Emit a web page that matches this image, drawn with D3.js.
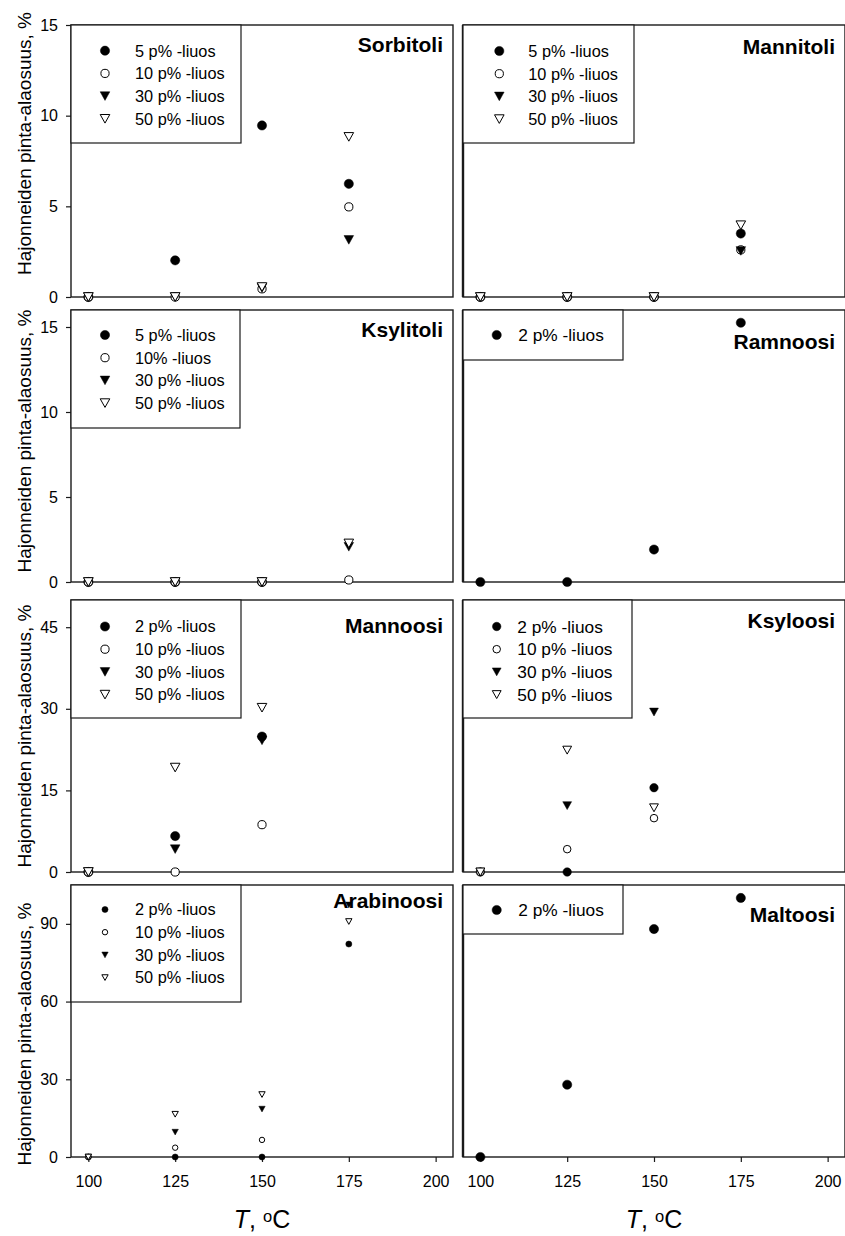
<!DOCTYPE html>
<html><head><meta charset="utf-8">
<script src="https://cdn.jsdelivr.net/npm/d3@7"></script>
<style>body{margin:0;background:#fff} svg text{font-family:Arial,"Liberation Sans",sans-serif;fill:#000}</style>
</head><body><svg id="c" width="845" height="1236"></svg>
<script>
// ---------- data ----------
const temps = [100, 125, 150, 175];
const xTicks = [100, 125, 150, 175, 200];
const yTicksRow1 = [0, 5, 10, 15];
const yTicksRow2 = [0, 5, 10, 15];
const yTicksRow3 = [0, 15, 30, 45];
const yTicksRow4 = [0, 30, 60, 90];
const yMaxByRow = [15, 16, 50, 105];
const yLabel = "Hajonneiden pinta-alaosuus, %";

const labelsPolyol = ["5 p% -liuos", "10 p% -liuos", "30 p% -liuos", "50 p% -liuos"];
const labelsKsylitoli = ["5 p% -liuos", "10% -liuos", "30 p% -liuos", "50 p% -liuos"];
const labelsSugar = ["2 p% -liuos", "10 p% -liuos", "30 p% -liuos", "50 p% -liuos"];
const labelsSingle = ["2 p% -liuos"];

const sorbitoli5 = [0, 2.02, 9.46, 6.24];
const sorbitoli10 = [0, 0, 0.45, 4.97];
const sorbitoli30 = [0, 0, 0.5, 3.15];
const sorbitoli50 = [0, 0, 0.55, 8.83];

const mannitoli5 = [0, 0, 0, 3.5];
const mannitoli10 = [0, 0, 0, 2.6];
const mannitoli30 = [0, 0, 0, 2.54];
const mannitoli50 = [0, 0, 0, 3.96];

const ksylitoli5 = [0, 0, 0, null];
const ksylitoli10 = [0, 0, 0, 0.12];
const ksylitoli30 = [0, 0, 0, 2.07];
const ksylitoli50 = [0, 0, 0, 2.27];

const ramnoosi2 = [0, 0, 1.91, 15.25];

const mannoosi2 = [0, 6.6, 24.9, null];
const mannoosi10 = [0, 0, 8.7, null];
const mannoosi30 = [0, 4.2, 24.2, null];
const mannoosi50 = [0, 19.2, 30.2, null];

const ksyloosi2 = [0, 0, 15.5, null];
const ksyloosi10 = [0, 4.2, 9.9, null];
const ksyloosi30 = [0, 12.2, 29.4, null];
const ksyloosi50 = [0, 22.4, 11.8, null];

const arabinoosi2 = [0, 0, 0, 82.2];
const arabinoosi10 = [0, 3.6, 6.6, null];
const arabinoosi30 = [0, 9.6, 18.5, 97.3];
const arabinoosi50 = [0, 16.5, 24.1, 90.9];

const maltoosi2 = [0, 27.9, 88.0, 100];

// ---------- layout ----------
const W = 845, H = 1236;
const colX = [71, 463], panelW = 382;
const rowY = [25, 310, 600, 885], panelH = 272;
const yTicksByRow = [yTicksRow1, yTicksRow2, yTicksRow3, yTicksRow4];
const yLabelCenters = [143.5, 441, 736, 1034];
const markerTypes = ["fc", "oc", "ft", "ot"];

const panels = [
  {title: "Sorbitoli", row: 0, col: 0, data: [sorbitoli5, sorbitoli10, sorbitoli30, sorbitoli50], labels: labelsPolyol, tdy: 26.7, lg: {w: 170, h: 118, mx: 34, tx: 64, fs: 16.3, y0: 25.7}, s: 1},
  {title: "Mannitoli", row: 0, col: 1, data: [mannitoli5, mannitoli10, mannitoli30, mannitoli50], labels: labelsPolyol, tdy: 29, lg: {w: 171, h: 118, mx: 36.3, tx: 65.3, fs: 16.3, y0: 26}, s: 1},
  {title: "Ksylitoli", row: 1, col: 0, data: [ksylitoli5, ksylitoli10, ksylitoli30, ksylitoli50], labels: labelsKsylitoli, tdy: 26.7, lg: {w: 169, h: 118, mx: 34, tx: 64, fs: 16.3, y0: 25}, s: 1},
  {title: "Ramnoosi", row: 1, col: 1, data: [ramnoosi2], labels: labelsSingle, tdy: 39.3, lg: {w: 160, h: 50, mx: 33.7, tx: 55.3, fs: 17.3, y0: 25}, s: 1},
  {title: "Mannoosi", row: 2, col: 0, data: [mannoosi2, mannoosi10, mannoosi30, mannoosi50], labels: labelsSugar, tdy: 33.3, lg: {w: 170, h: 118, mx: 34, tx: 64, fs: 16.3, y0: 26.5}, s: 1},
  {title: "Ksyloosi", row: 2, col: 1, data: [ksyloosi2, ksyloosi10, ksyloosi30, ksyloosi50], labels: labelsSugar, tdy: 27.5, lg: {w: 169, h: 118, mx: 33.7, tx: 54.3, fs: 17.3, y0: 26.5}, s: 0.92},
  {title: "Arabinoosi", row: 3, col: 0, data: [arabinoosi2, arabinoosi10, arabinoosi30, arabinoosi50], labels: labelsSugar, tdy: 23.3, lg: {w: 170, h: 117, mx: 34, tx: 64, fs: 16.3, y0: 24.5}, s: 0.66},
  {title: "Maltoosi", row: 3, col: 1, data: [maltoosi2], labels: labelsSingle, tdy: 37.3, lg: {w: 160, h: 49, mx: 33.7, tx: 55.3, fs: 17.3, y0: 25}, s: 1}
];

const svg = d3.select("#c");
svg.append("rect").attr("width", W).attr("height", H).attr("fill", "#fff");

function marker(g, type, x, y, s) {
  if (type === "fc" || type === "oc") {
    g.append("circle").attr("cx", x).attr("cy", y)
      .attr("r", (type === "fc" ? 4.6 : 4.1) * s)
      .attr("fill", type === "fc" ? "#000" : "#fff")
      .attr("stroke", "#000").attr("stroke-width", type === "fc" ? 0.5 : 1);
  } else {
    const w = 4.8 * s, h = 8.6 * s;
    g.append("path")
      .attr("d", `M${x - w},${y - h / 2}L${x + w},${y - h / 2}L${x},${y + h / 2}Z`)
      .attr("fill", type === "ft" ? "#000" : "#fff")
      .attr("stroke", "#000").attr("stroke-width", type === "ft" ? 0.5 : 1)
      .attr("stroke-linejoin", "miter");
  }
}

panels.forEach(p => {
  const x0 = colX[p.col], y0 = rowY[p.row];
  const x = d3.scaleLinear().domain([95, 205]).range([x0, x0 + panelW]);
  const y = d3.scaleLinear().domain([0, yMaxByRow[p.row]]).range([y0 + panelH, y0]);
  const g = svg.append("g");

  // frame
  g.append("rect").attr("x", x0).attr("y", y0).attr("width", panelW).attr("height", panelH)
    .attr("fill", "none").attr("stroke", "#1a1a1a").attr("stroke-width", 1.4);
  if (p.col === 1) {
    g.append("line").attr("x1", x0).attr("x2", x0).attr("y1", y0).attr("y2", y0 + panelH)
      .attr("stroke", "#1a1a1a").attr("stroke-width", 2.4);
  }

  // y axis (left column only)
  if (p.col === 0) {
    const ya = g.append("g").attr("transform", `translate(${x0},0)`)
      .call(d3.axisLeft(y).tickValues(yTicksByRow[p.row]).tickFormat(d3.format("d"))
        .tickSizeInner(5).tickSizeOuter(0).tickPadding(8));
    ya.select(".domain").remove();
    ya.selectAll("line").attr("stroke", "#1a1a1a").attr("stroke-width", 1.2);
    ya.selectAll("text").attr("font-size", 16).attr("font-family", "Arial, 'Liberation Sans', sans-serif").attr("fill", "#000");

    svg.append("text")
      .attr("transform", `translate(31,${yLabelCenters[p.row]}) rotate(-90)`)
      .attr("text-anchor", "middle").attr("font-size", 19).text(yLabel);
  }

  // x axis (bottom row only)
  if (p.row === 3) {
    const xa = g.append("g").attr("transform", `translate(0,${y0 + panelH})`)
      .call(d3.axisBottom(x).tickValues(xTicks).tickFormat(d3.format("d"))
        .tickSizeInner(5).tickSizeOuter(0).tickPadding(13.5));
    xa.select(".domain").remove();
    xa.selectAll("line").attr("stroke", "#1a1a1a").attr("stroke-width", 1.2);
    xa.selectAll("text").attr("font-size", 16).attr("font-family", "Arial, 'Liberation Sans', sans-serif").attr("fill", "#000");

    const t = svg.append("text").attr("x", x0 + panelW / 2).attr("y", 1228)
      .attr("text-anchor", "middle").attr("font-size", 25);
    t.append("tspan").attr("font-style", "italic").text("T");
    t.append("tspan").text(", ");
    t.append("tspan").attr("font-size", 16.5).attr("dy", -6).text("o");
    t.append("tspan").attr("dy", 6).text("C");
  }

  // legend
  const lg = g.append("g");
  lg.append("rect").attr("x", x0).attr("y", y0).attr("width", p.lg.w).attr("height", p.lg.h)
    .attr("fill", "#fff").attr("stroke", "#1a1a1a").attr("stroke-width", 1.2);
  p.labels.forEach((lab, i) => {
    const ly = y0 + p.lg.y0 + i * 22.7;
    marker(lg, markerTypes[i], x0 + p.lg.mx, ly, p.s);
    lg.append("text").attr("x", x0 + p.lg.tx).attr("y", ly).attr("dy", "0.36em")
      .attr("font-size", p.lg.fs).text(lab);
  });

  // title
  g.append("text").attr("x", x0 + panelW - 10).attr("y", y0 + p.tdy)
    .attr("text-anchor", "end").attr("font-size", 21).attr("font-weight", "bold").text(p.title);

  // data
  p.data.forEach((arr, si) => {
    arr.forEach((v, i) => {
      if (v === null || v === undefined) return;
      marker(g, markerTypes[si], x(temps[i]), y(v), p.s);
    });
  });
});
</script></body></html>
